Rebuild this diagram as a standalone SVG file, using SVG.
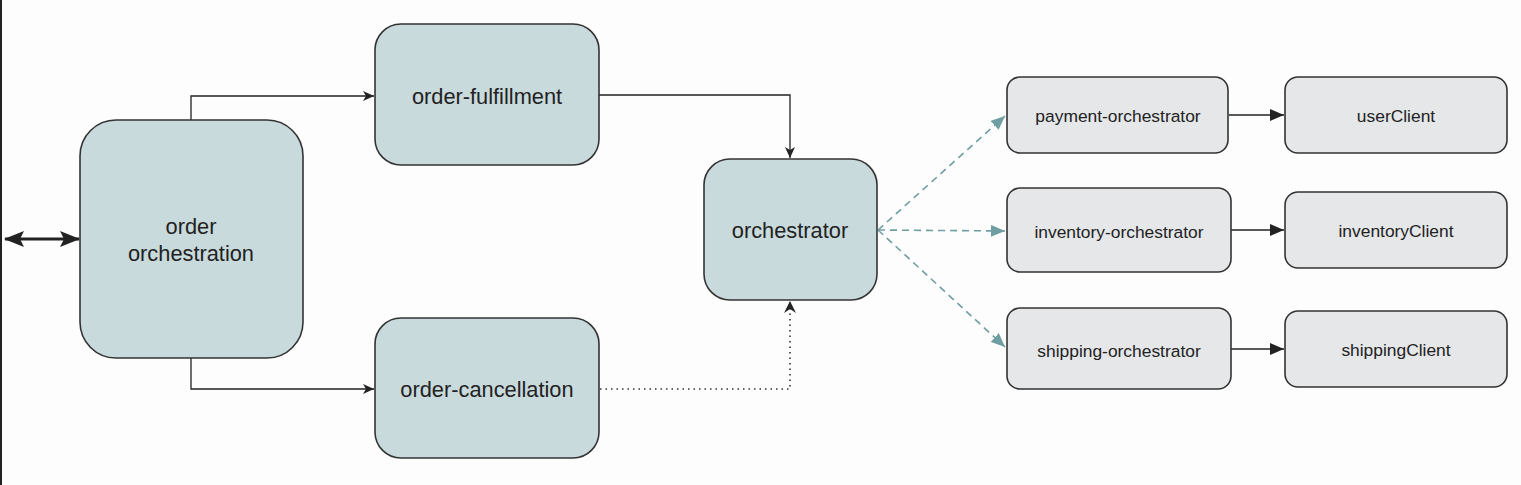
<svg xmlns="http://www.w3.org/2000/svg" width="1521" height="485" viewBox="0 0 1521 485">
<style>
.big{fill:#c9dadd;stroke:#333;stroke-width:1.6}
.small{fill:#e5e7e9;stroke:#333;stroke-width:1.6}
.t1{font-family:"Liberation Sans",Arial,sans-serif;font-size:21.8px;fill:#222;text-anchor:middle}
.t2{font-family:"Liberation Sans",Arial,sans-serif;font-size:17.4px;fill:#222;text-anchor:middle}
.c{fill:none;stroke:#222;stroke-width:1.3}
.dot{fill:none;stroke:#333;stroke-width:1.6;stroke-dasharray:1.5 4}
.dash{fill:none;stroke:#6f9ea2;stroke-width:1.6;stroke-dasharray:7 5}
</style>
<defs>
<marker id="open" viewBox="0 0 12 12" refX="11" refY="6" markerWidth="12" markerHeight="12" markerUnits="userSpaceOnUse" orient="auto">
<path d="M0,1 L11,6 L0,11 L3,6 Z" fill="#222"/>
</marker>
<marker id="fill" viewBox="0 0 14 12" refX="14" refY="6" markerWidth="14" markerHeight="12" markerUnits="userSpaceOnUse" orient="auto">
<path d="M0,0 L14,6 L0,12 Z" fill="#222"/>
</marker>
<marker id="teal" viewBox="0 0 14 12" refX="14" refY="6" markerWidth="14" markerHeight="12" markerUnits="userSpaceOnUse" orient="auto">
<path d="M0,0 L14,6 L0,12 Z" fill="#6f9ea2"/>
</marker>
<marker id="dbl" viewBox="0 0 20 16" refX="19" refY="8" markerWidth="20" markerHeight="16" markerUnits="userSpaceOnUse" orient="auto-start-reverse">
<path d="M0,0 L20,8 L0,16 L4,8 Z" fill="#222"/>
</marker>
</defs>
<rect x="0" y="0" width="1521" height="485" fill="#fdfdfd"/>
<rect x="0" y="0" width="2" height="485" fill="#222"/>
<g id="connectors">
<line x1="5" y1="239" x2="79" y2="239" stroke="#222" stroke-width="3" marker-start="url(#dbl)" marker-end="url(#dbl)"/>
<path class="c" d="M191,120 V96 H374" marker-end="url(#open)"/>
<path class="c" d="M191,358 V389 H374" marker-end="url(#open)"/>
<path class="c" d="M599,95 H790 V158" marker-end="url(#open)"/>
<path class="dot" d="M600,389 H790 V302"/>
<path d="M784,313 L790,301 L796,313 L790,309 Z" fill="#222"/>
<line class="dash" x1="878" y1="230" x2="1005" y2="116" marker-end="url(#teal)"/>
<line class="dash" x1="878" y1="230" x2="1005" y2="231" marker-end="url(#teal)"/>
<line class="dash" x1="878" y1="230" x2="1005" y2="347" marker-end="url(#teal)"/>
<line class="c" x1="1229" y1="115" x2="1284" y2="115" marker-end="url(#fill)"/>
<line class="c" x1="1231" y1="230" x2="1284" y2="230" marker-end="url(#fill)"/>
<line class="c" x1="1231" y1="349" x2="1284" y2="349" marker-end="url(#fill)"/>
</g>
<g id="order-orchestration"><rect class="big" x="80" y="120" width="223" height="238" rx="36"/><text class="t1" x="191" y="234">order</text><text class="t1" x="191" y="261">orchestration</text></g>
<g id="order-fulfillment"><rect class="big" x="375" y="24" width="224" height="141" rx="26"/><text class="t1" x="487" y="104">order-fulfillment</text></g>
<g id="order-cancellation"><rect class="big" x="375" y="318" width="224" height="140" rx="26"/><text class="t1" x="487" y="397">order-cancellation</text></g>
<g id="orchestrator"><rect class="big" x="704" y="159" width="173" height="141" rx="26"/><text class="t1" x="790" y="238">orchestrator</text></g>
<g id="payment-orchestrator"><rect class="small" x="1007" y="77" width="221" height="76" rx="13"/><text class="t2" x="1118" y="122">payment-orchestrator</text></g>
<g id="userClient"><rect class="small" x="1285" y="77" width="222" height="76" rx="13"/><text class="t2" x="1396" y="122">userClient</text></g>
<g id="inventory-orchestrator"><rect class="small" x="1007" y="188" width="224" height="84" rx="13"/><text class="t2" x="1119" y="238">inventory-orchestrator</text></g>
<g id="inventoryClient"><rect class="small" x="1285" y="192" width="222" height="76" rx="13"/><text class="t2" x="1396" y="237">inventoryClient</text></g>
<g id="shipping-orchestrator"><rect class="small" x="1007" y="308" width="224" height="81" rx="13"/><text class="t2" x="1119" y="357">shipping-orchestrator</text></g>
<g id="shippingClient"><rect class="small" x="1285" y="311" width="222" height="76" rx="13"/><text class="t2" x="1396" y="356">shippingClient</text></g>
</svg>
